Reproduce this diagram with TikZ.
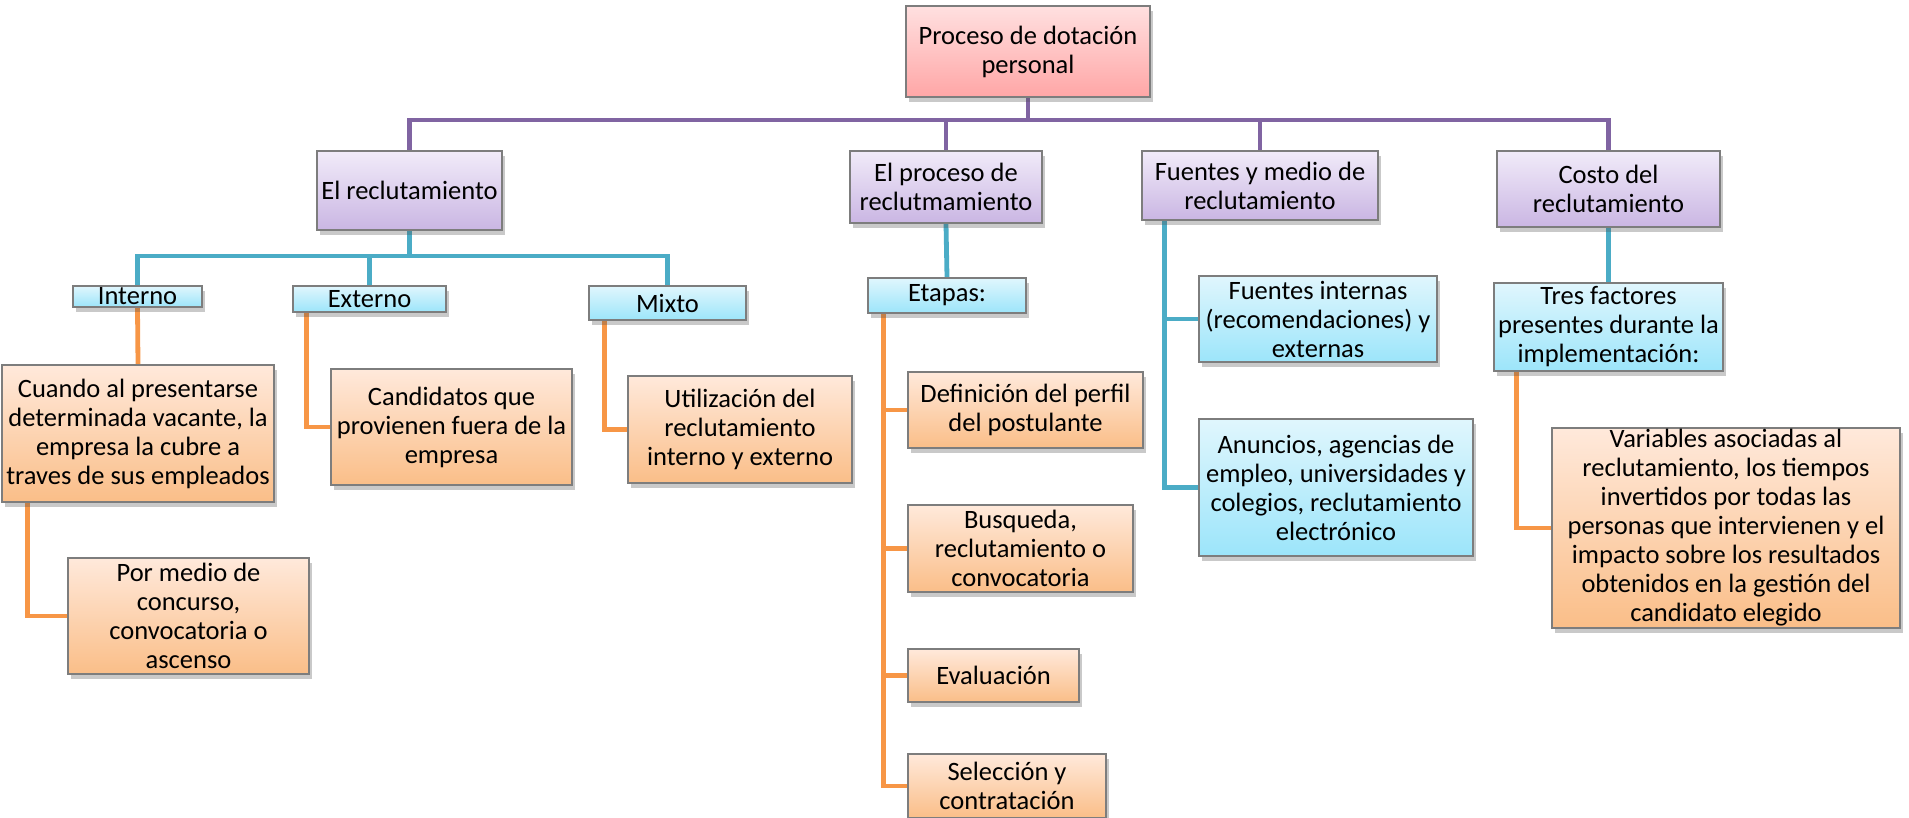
\documentclass[tikz,border=0pt]{standalone}
\usepackage{fontspec}
\setmainfont{Carlito}
\usetikzlibrary{shadows,backgrounds}
\definecolor{plc}{RGB}{128,100,162}
\definecolor{tlc}{RGB}{75,172,198}
\definecolor{orc}{RGB}{247,150,70}
\definecolor{bordc}{RGB}{125,125,125}
\definecolor{pinkT}{RGB}{255,224,224}
\definecolor{pinkB}{RGB}{255,166,166}
\definecolor{purT}{RGB}{241,235,249}
\definecolor{purB}{RGB}{202,182,227}
\definecolor{cyaT}{RGB}{224,246,253}
\definecolor{cyaB}{RGB}{156,229,250}
\definecolor{oraT}{RGB}{255,233,219}
\definecolor{oraB}{RGB}{250,190,136}
\begin{document}
\begin{tikzpicture}[x=1pt,y=-1pt,
  box/.style={draw=bordc, line width=1.2pt, inner sep=0pt, align=center,
    font=\fontsize{26.5}{29}\selectfont,
    drop shadow={shadow xshift=3pt,shadow yshift=-5pt,opacity=0.3,fill=black!70}},
  pinkbox/.style={box, top color=pinkT, bottom color=pinkB},
  purbox/.style={box, top color=purT, bottom color=purB},
  cyabox/.style={box, top color=cyaT, bottom color=cyaB},
  orabox/.style={box, top color=oraT, bottom color=oraB},
  sz/.style 2 args={minimum width=#1pt, minimum height=#2pt},
  pline/.style={draw=plc, line width=4.8pt},
  tline/.style={draw=tlc, line width=4.8pt},
  oline/.style={draw=orc, line width=4.8pt}
]
\useasboundingbox (0,0) rectangle (1909,817);

% level 0
\node[pinkbox, sz={244}{91}] (root) at (1028,51.5) {Proceso de dotación\\personal};
% level 1
\node[purbox, sz={185}{79}] (recl) at (409.5,190.5) {El reclutamiento};
\node[purbox, sz={192}{72}] (proc) at (946,187) {El proceso de\\reclutmamiento};
\node[purbox, sz={236}{69}] (fuen) at (1260,185.5) {Fuentes y medio de\\reclutamiento};
\node[purbox, sz={223}{76}] (cost) at (1608.5,189) {Costo del\\reclutamiento};
% level 2
\node[cyabox, sz={129}{21}] (inte) at (137.5,296.5) {Interno};
\node[cyabox, sz={153}{26}] (exte) at (369.5,299) {Externo};
\node[cyabox, sz={157}{34}] (mixt) at (667.5,303) {Mixto};
\node[cyabox, sz={158}{35}] (etap) at (947,295.5) {Etapas:};
\node[cyabox, sz={238}{86}] (fint) at (1318,319) {Fuentes internas\\(recomendaciones) y\\externas};
\node[cyabox, sz={274}{137}] (anun) at (1336,487.5) {Anuncios, agencias de\\empleo, universidades y\\colegios, reclutamiento\\electrónico};
\node[cyabox, sz={229}{88}] (tres) at (1608.5,327) {Tres factores\\presentes durante la\\implementación:};
% level 3
\node[orabox, sz={272}{137}] (cuan) at (138,433.5) {Cuando al presentarse\\determinada vacante, la\\empresa la cubre a\\traves de sus empleados};
\node[orabox, sz={241}{116}] (porm) at (188.5,616) {Por medio de\\concurso,\\convocatoria o\\ascenso};
\node[orabox, sz={241}{116}] (cand) at (451.5,427) {Candidatos que\\provienen fuera de la\\empresa};
\node[orabox, sz={224}{107}] (util) at (740,429.5) {Utilización del\\reclutamiento\\interno y externo};
\node[orabox, sz={235}{76}] (defi) at (1025.5,410) {Definición del perfil\\del postulante};
\node[orabox, sz={225}{87}] (busq) at (1020.5,548.5) {Busqueda,\\reclutamiento o\\convocatoria};
\node[orabox, sz={171}{53}] (eval) at (993.5,675.5) {Evaluación};
\node[orabox, sz={198}{64}] (sele) at (1007,786) {Selección y\\contratación};
\node[orabox, sz={348}{200}] (vari) at (1726,528) {Variables asociadas al\\reclutamiento, los tiempos\\invertidos por todas las\\personas que intervienen y el\\impacto sobre los resultados\\obtenidos en la gestión del\\candidato elegido};

\coordinate (pbus) at (1028,120);
\coordinate (tbus) at (409.5,256);

\begin{pgfonlayer}{background}
  % purple
  \foreach \c in {recl,proc,fuen,cost}
    \draw[pline] (root.south) -- (root.south |- pbus) -| (\c.north);
  % teal
  \foreach \c in {inte,exte,mixt}
    \draw[tline] (recl.south) -- (recl.south |- tbus) -| (\c.north);
  \draw[tline] (proc.south) -- (etap.north);
  \draw[tline] (cost.south) -- (tres.north);
  \draw[tline] ([xshift=23pt]fuen.south west) |- (fint.west);
  \draw[tline] ([xshift=23pt]fuen.south west) |- (anun.west);
  % orange
  \draw[oline] (inte.south) -- (cuan.north);
  \draw[oline] ([xshift=26pt]cuan.south west) |- (porm.west);
  \draw[oline] ([xshift=14pt]exte.south west) |- (cand.west);
  \draw[oline] ([xshift=16pt]mixt.south west) |- (util.west);
  \foreach \c in {defi,busq,eval,sele}
    \draw[oline] ([xshift=16pt]etap.south west) |- (\c.west);
  \draw[oline] ([xshift=23pt]tres.south west) |- (vari.west);
\end{pgfonlayer}
\end{tikzpicture}
\end{document}
